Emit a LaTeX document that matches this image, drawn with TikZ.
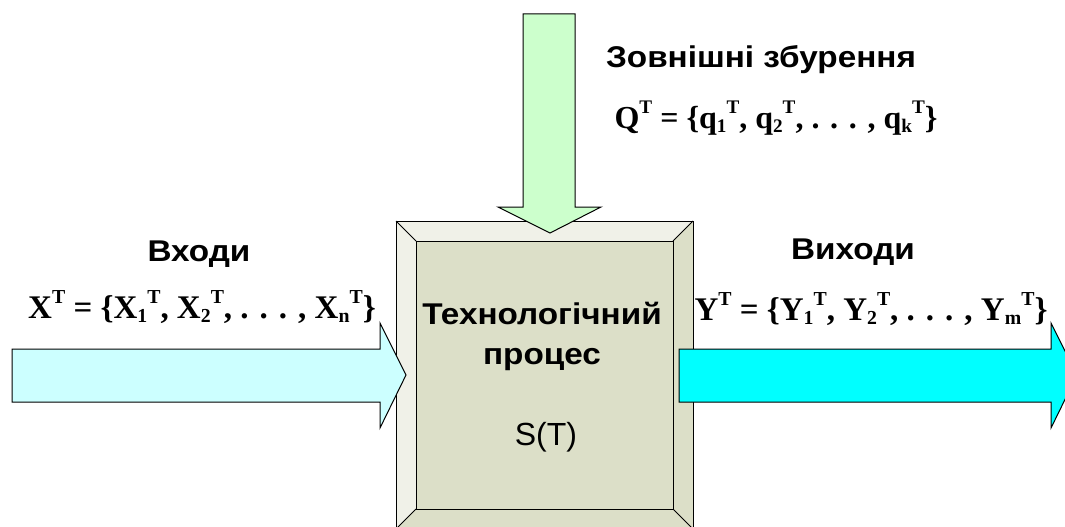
\documentclass[tikz,border=0pt]{standalone}
\usepackage{graphicx}
\usepackage{fontspec}
\setmainfont{Liberation Serif}
\setsansfont{Liberation Sans}
\newfontfamily\widesans[FakeStretch=1.11]{Liberation Sans}
\newcommand\mysup[1]{\raisebox{0.45em}{\scalebox{0.6}{#1}}}
\newcommand\mysub[1]{\raisebox{-0.13em}{\scalebox{0.6}{#1}}}
\definecolor{greenfill}{HTML}{CCFFCC}
\definecolor{infill}{HTML}{CCFFFF}
\definecolor{outfill}{HTML}{00FFFF}
\definecolor{bevlight}{HTML}{F0F1E8}
\definecolor{bevmid}{HTML}{DCDFC8}
\begin{document}
\begin{tikzpicture}[x=1pt,y=-1pt,line join=miter,
  lbl/.style={font=\widesans\bfseries\fontsize{30}{32}\selectfont,anchor=base,inner sep=0pt},
  plain/.style={font=\sffamily\fontsize{32}{34}\selectfont,anchor=base,inner sep=0pt},
  frm/.style={font=\rmfamily\bfseries\fontsize{33}{36}\selectfont,anchor=base,inner sep=0pt},
  edge/.style={draw=black,line width=1pt},
  arrowshape/.style={draw=black,line width=1pt}]
\useasboundingbox (0,0) rectangle (1065,527);
% process box with bevel
\coordinate (o1) at (396,221); \coordinate (o2) at (693,221);
\coordinate (o3) at (693,529); \coordinate (o4) at (396,529);
\coordinate (i1) at (416,241); \coordinate (i2) at (673,241);
\coordinate (i3) at (673,509); \coordinate (i4) at (416,509);
\fill[bevmid] (o1) -- (o2) -- (o3) -- (o4) -- cycle;
\fill[bevlight] (o1) -- (o2) -- (i2) -- (i1) -- cycle;
\fill[bevlight] (o1) -- (i1) -- (i4) -- (o4) -- cycle;
\draw[edge] (o1) -- (o2) -- (o3) -- (o4) -- cycle;
\draw[edge] (i1) -- (i2) -- (i3) -- (i4) -- cycle;
\draw[edge] (o1) -- (i1) (o2) -- (i2) (o3) -- (i3) (o4) -- (i4);
% down arrow
\filldraw[arrowshape,fill=greenfill] (523,14) -- (575,14) -- (575,207) -- (601,207) -- (550,233) -- (498,207) -- (523,207) -- cycle;
% input arrow
\filldraw[arrowshape,fill=infill] (12,349) -- (380,349) -- (380,323) -- (406,375) -- (380,428) -- (380,402) -- (12,402) -- cycle;
% output arrow
\filldraw[arrowshape,fill=outfill] (679,349) -- (1051,349) -- (1051,323) -- (1077,375) -- (1051,428) -- (1051,402) -- (679,402) -- cycle;
% texts
\node[lbl] (dist) at (761,67) {Зовнішні збурення};
\node[frm,font=\rmfamily\bfseries\fontsize{32}{36}\selectfont] (qset) at (776,128) {Q\mysup{T} = \{q\mysub{1}\mysup{T}, q\mysub{2}\mysup{T}, . . . , q\mysub{k}\mysup{T}\}};
\node[lbl] (inl) at (199,261) {Входи};
\node[frm] (xset) at (202,318) {X\mysup{T} = \{X\mysub{1}\mysup{T}, X\mysub{2}\mysup{T}, . . . , X\mysub{n}\mysup{T}\}};
\node[lbl] (outl) at (853,259) {Виходи};
\node[frm] (yset) at (871,320) {Y\mysup{T} = \{Y\mysub{1}\mysup{T}, Y\mysub{2}\mysup{T}, . . . , Y\mysub{m}\mysup{T}\}};
\node[lbl] (p1) at (542,324) {Технологічний};
\node[lbl] (p2) at (542,364) {процес};
\node[plain] (p3) at (546,445) {S(T)};
\end{tikzpicture}
\end{document}
